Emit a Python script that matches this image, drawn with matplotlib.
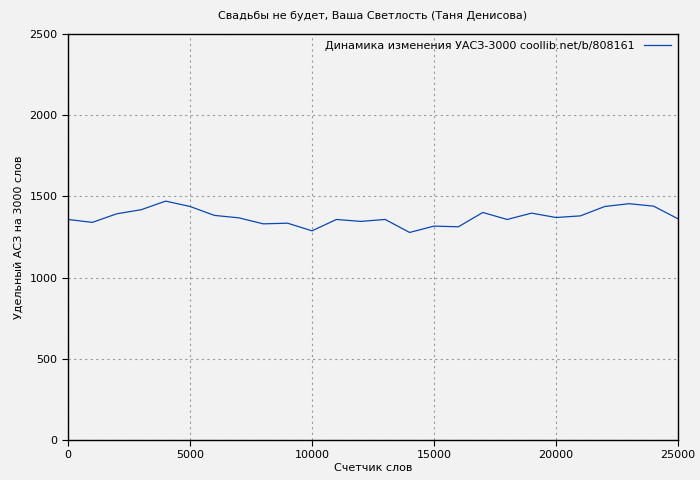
import matplotlib
matplotlib.use('Agg')
import matplotlib.pyplot as plt

words = list(range(0, 26000, 1000))
acz = [1358, 1340, 1393, 1418, 1471, 1438, 1383, 1368, 1331, 1335, 1288, 1358, 1346,
       1358, 1278, 1317, 1313, 1401, 1358, 1397, 1370, 1380, 1438, 1455, 1440, 1362]

fig = plt.figure(figsize=(7, 4.8), dpi=100, facecolor='#f2f2f2')
ax = fig.add_axes([68/700, 40/480, 610/700, 406/480], facecolor='#f2f2f2')
ax.plot(words, acz, color='#0a47b5', lw=0.9,
        label='Динамика изменения УАСЗ-3000 coollib.net/b/808161')
ax.set_xlim(0, 25000)
ax.set_ylim(0, 2500)
ax.set_xticks(range(0, 25001, 5000))
ax.set_yticks(range(0, 2501, 500))
ax.grid(True, color='#999999', ls=(0, (2, 3)), lw=0.8)
ax.tick_params(labelsize=8, direction='out', length=4)
for s in ax.spines.values():
    s.set_linewidth(1)
ax.set_xlabel('Счетчик слов', fontsize=8, labelpad=2)
ax.set_ylabel('Удельный АСЗ на 3000 слов', fontsize=8)
ax.set_title('Свадьбы не будет, Ваша Светлость (Таня Денисова)', fontsize=8, pad=11)
leg = ax.legend(loc='upper right', fontsize=8, frameon=False, markerfirst=False,
                handlelength=2.5, borderaxespad=0.2)
fig.savefig('out.png', dpi=100, facecolor=fig.get_facecolor())
